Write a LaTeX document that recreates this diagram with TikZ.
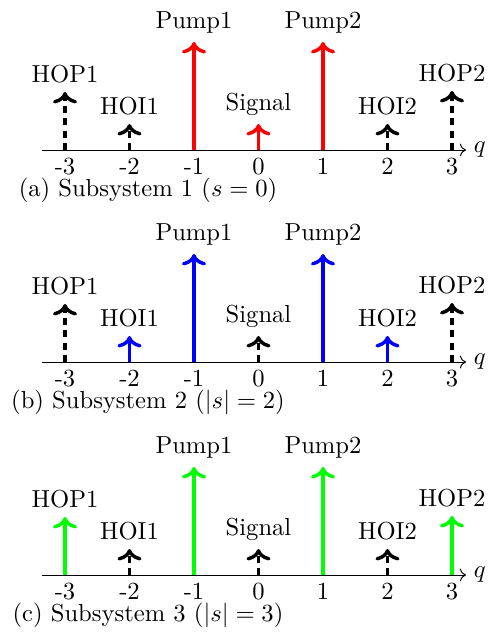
\documentclass[tikz,border=0pt]{standalone}
\usetikzlibrary{arrows.meta}
\tikzset{
  axisline/.style={line width=0.4pt,->},
  solidarr/.style={line width=1.4pt,->},
  dasharr/.style={line width=1.4pt,->,dash pattern=on 2.9pt off 2.1pt},
  sred/.style={solidarr,draw={rgb,255:red,255;green,0;blue,0}},
  sblue/.style={solidarr,draw={rgb,255:red,0;green,0;blue,255}},
  sgreen/.style={solidarr,draw={rgb,255:red,0;green,255;blue,0}},
  dblack/.style={dasharr,draw=black},
  lbl/.style={above},
  ticklbl/.style={anchor=base,inner sep=0pt},
  caplbl/.style={anchor=base,inner sep=0pt},
}
\newcommand\arrowat[6]{% panel, axis y, k, height, style, label
  \coordinate (#1-b#3) at ({258.5+64.5*#3},#2);
  \coordinate (#1-e#3) at ({258.5+64.5*#3},#2-#4);
  \draw[#5] (#1-b#3) -- (#1-e#3);
  \node[lbl] (#1-n#3) at (#1-e#3) {#6};
}
\newcommand\spectrumpanel[7]{% name, axis y, signal, hoi, hop, pump, caption
  \coordinate (#1-L) at (42,#2);
  \coordinate (#1-R) at (466,#2);
  \draw[axisline] (#1-L) -- (#1-R);
  \node[anchor=west,inner sep=2pt,xshift=1pt] (#1-q) at (#1-R) {$q$};
  \foreach \k in {-3,...,3}{\node[ticklbl] (#1-t\k) at ({258.5+64.5*\k},#2+24) {\k};}
  \arrowat{#1}{#2}{-3}{58}{#5}{HOP1}
  \arrowat{#1}{#2}{-2}{26}{#4}{HOI1}
  \arrowat{#1}{#2}{-1}{108}{#6}{Pump1}
  \arrowat{#1}{#2}{0}{26}{#3}{Signal}
  \arrowat{#1}{#2}{1}{108}{#6}{Pump2}
  \arrowat{#1}{#2}{2}{26}{#4}{HOI2}
  \arrowat{#1}{#2}{3}{59}{#5}{HOP2}
  \node[caplbl] (#1-cap) at (148,#2+46) {#7};
}
\begin{document}
\begin{tikzpicture}[x=0.4065pt,y=-0.4065pt]
\useasboundingbox (0,0) rectangle (488,635);
\spectrumpanel{a}{150}{sred}{dblack}{dblack}{sred}{(a) Subsystem 1 ($s=0$)}
\spectrumpanel{b}{362}{dblack}{sblue}{dblack}{sblue}{(b) Subsystem 2 ($|s|=2$)}
\spectrumpanel{c}{575}{dblack}{dblack}{sgreen}{sgreen}{(c) Subsystem 3 ($|s|=3$)}
\end{tikzpicture}
\end{document}
